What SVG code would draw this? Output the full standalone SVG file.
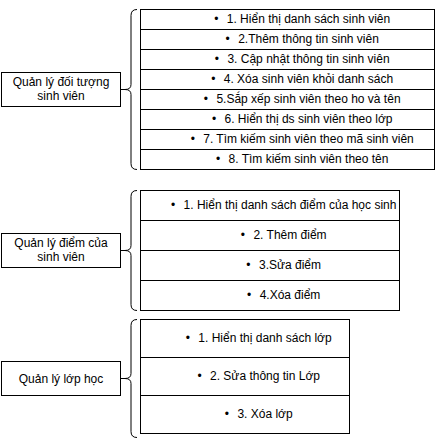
<svg xmlns="http://www.w3.org/2000/svg" width="441" height="440" viewBox="0 0 441 440">
<style>
.box{fill:#fff;stroke:#000;stroke-width:1}
.ln{fill:none;stroke:#000;stroke-width:1}
text{font-family:"Liberation Sans",Arial,sans-serif;font-size:12px;fill:#000;text-anchor:middle}
</style>
<rect width="441" height="440" fill="#fff"/>
<g id="connectors">
<path class="ln" d="M121 89.5 L125 89.5 M137 9.5 Q131 9.5 131 15.5 L131 84.5 Q131 89.5 125 89.5 Q131 89.5 131 94.5 L131 163.5 Q131 169.5 137 169.5"/>
<path class="ln" d="M121 250.5 L125 250.5 M137 190.5 Q131 190.5 131 196.5 L131 245.5 Q131 250.5 125 250.5 Q131 250.5 131 255.5 L131 304.5 Q131 310.5 137 310.5"/>
<path class="ln" d="M121 378.5 L125 378.5 M137 319.5 Q131 319.5 131 325.5 L131 373.5 Q131 378.5 125 378.5 Q131 378.5 131 383.5 L131 431.5 Q131 437.5 137 437.5"/>
</g>
<g id="node-qldt">
<rect class="box" x="1.5" y="72.5" width="119" height="34"/>
<text x="61" y="86">Quản lý đối tượng</text>
<text x="61" y="100">sinh viên</text>
</g>
<g id="list-qldt">
<rect class="box" x="140.5" y="9.5" width="294" height="160"/>
<path class="ln" d="M140.5 29.5H434.5M140.5 49.5H434.5M140.5 69.5H434.5M140.5 89.5H434.5M140.5 109.5H434.5M140.5 129.5H434.5M140.5 149.5H434.5"/>
<text x="302.2" y="23">•<tspan dx="8.4">1. Hiển thị danh sách sinh viên</tspan></text>
<text x="302.2" y="43">•<tspan dx="8.4">2.Thêm thông tin sinh viên</tspan></text>
<text x="302.2" y="63">•<tspan dx="8.4">3. Cập nhật thông tin sinh viên</tspan></text>
<text x="302.2" y="83">•<tspan dx="8.4">4. Xóa sinh viên khỏi danh sách</tspan></text>
<text x="302.2" y="103">•<tspan dx="8.4">5.Sắp xếp sinh viên theo ho và tên</tspan></text>
<text x="302.2" y="123">•<tspan dx="8.4">6. Hiển thị ds sinh viên theo lớp</tspan></text>
<text x="302.2" y="143">•<tspan dx="8.4">7. Tìm kiếm sinh viên theo mã sinh viên</tspan></text>
<text x="302.2" y="163">•<tspan dx="8.4">8. Tìm kiếm sinh viên theo tên</tspan></text>
</g>
<g id="node-qld">
<rect class="box" x="1.5" y="233.5" width="119" height="34"/>
<text x="61" y="247">Quản lý điểm của</text>
<text x="61" y="261">sinh viên</text>
</g>
<g id="list-qld">
<rect class="box" x="140.5" y="190.5" width="259" height="120"/>
<path class="ln" d="M140.5 220.5H399.5M140.5 250.5H399.5M140.5 280.5H399.5"/>
<text x="283.7" y="209">•<tspan dx="8.4">1. Hiển thị danh sách điểm của học sinh</tspan></text>
<text x="283.7" y="239">•<tspan dx="8.4">2. Thêm điểm</tspan></text>
<text x="283.7" y="269">•<tspan dx="8.4">3.Sửa điểm</tspan></text>
<text x="283.7" y="299">•<tspan dx="8.4">4.Xóa điểm</tspan></text>
</g>
<g id="node-qllh">
<rect class="box" x="1.5" y="361.5" width="119" height="34"/>
<text x="61" y="382.5">Quản lý lớp học</text>
</g>
<g id="list-qllh">
<rect class="box" x="140.5" y="319.5" width="209" height="114"/>
<path class="ln" d="M140.5 357.5H349.5M140.5 395.5H349.5"/>
<text x="258.7" y="342">•<tspan dx="8.4">1. Hiển thị danh sách lớp</tspan></text>
<text x="258.7" y="380">•<tspan dx="8.4">2. Sửa thông tin Lớp</tspan></text>
<text x="258.7" y="418">•<tspan dx="8.4">3. Xóa lớp</tspan></text>
</g>
</svg>
